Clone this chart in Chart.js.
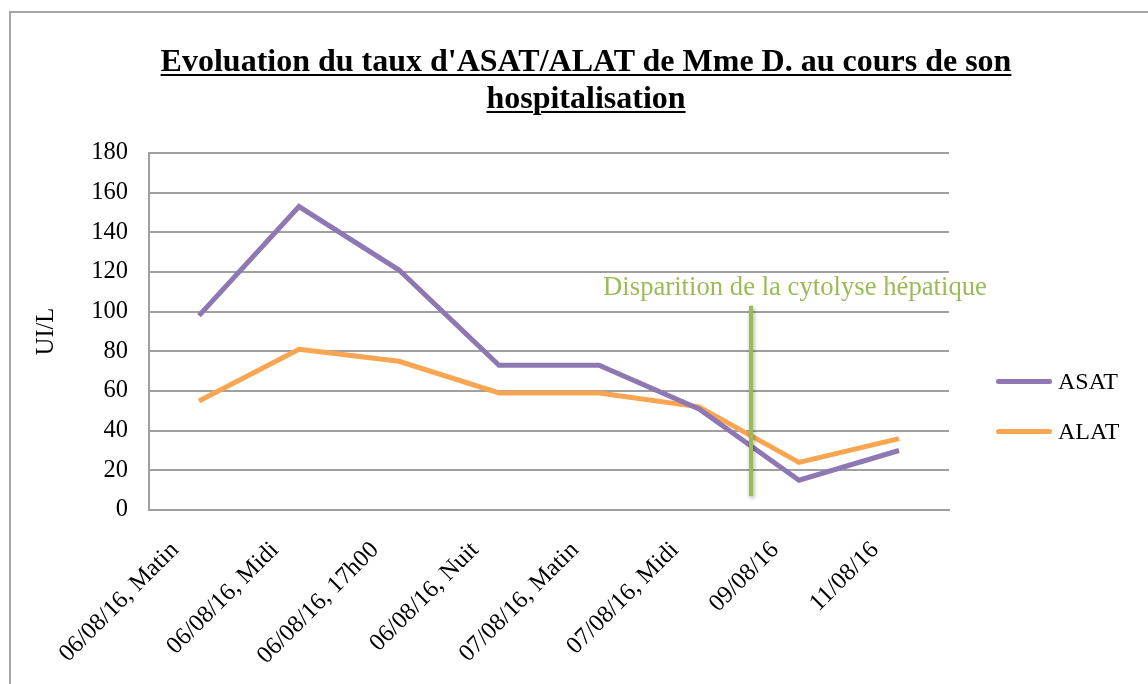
<!DOCTYPE html>
<html>
<head>
<meta charset="utf-8">
<script src="https://cdn.jsdelivr.net/npm/chart.js@4/dist/chart.umd.min.js"></script>
<style>
    body { margin: 0; background: #fff; overflow: hidden; }
    #wrap { position: relative; width: 1148px; height: 684px; }
    #frame { position: absolute; left: 9px; top: 11px; width: 1300px; height: 900px; border: 2px solid #a6a6a6; box-sizing: border-box; }
    #title { position: absolute; left: 86px; width: 1000px; top: 42px; text-align: center; font-family: "Liberation Serif", "Times New Roman", serif; font-weight: bold; font-size: 32px; line-height: 37px; text-decoration: underline; text-decoration-thickness: 2px; text-underline-offset: 3px; color: #000; }
    #legend { position: absolute; left: 996px; top: 356px; font-family: "Liberation Serif", "Times New Roman", serif; font-size: 24px; color: #000; }
    .item { height: 50px; display: flex; align-items: center; }
    .swatch { width: 56px; height: 5px; border-radius: 3px; margin-right: 6px; }
    canvas { position: absolute; left: 0; top: 0; }
</style>
</head>
<body>
<div id="wrap">
    <div id="frame"></div>
    <canvas id="hepChart" width="1148" height="684"></canvas>
    <div id="title">Evoluation du taux d'ASAT/ALAT de Mme D. au cours de son<br>hospitalisation</div>
    <div id="legend"></div>
</div>
<script>
// Data
const categories = ['06/08/16, Matin', '06/08/16, Midi', '06/08/16, 17h00', '06/08/16, Nuit', '07/08/16, Matin', '07/08/16, Midi', '09/08/16', '11/08/16'];
const asatValues = [98, 153, 121, 73, 73, 51, 15, 30];
const alatValues = [55, 81, 75, 59, 59, 52, 24, 36];
const seriesNames = ['ASAT', 'ALAT'];
const seriesColors = ['#8d78b4', '#f9a552'];

// Y axis ticks
const yMin = 0;
const yMax = 180;
const yStep = 20;

// Marker line between 07/08 midi and 09/08 (category index, value range)
const markerIndex = 5.52;
const markerFrom = 7;
const markerTo = 103;
const markerText = 'Disparition de la cytolyse hépatique';
const markerTextIndex = 5.96;
const markerTextValue = 112;

const serif = '"Liberation Serif", "Times New Roman", serif';

// Plugin to draw the vertical marker and its label
const markerPlugin = {
    id: 'marker',
    afterDatasetsDraw(chart) {
        const ctx = chart.ctx;
        const x = chart.scales.x.getPixelForValue(markerIndex);
        const y1 = chart.scales.y.getPixelForValue(markerFrom);
        const y2 = chart.scales.y.getPixelForValue(markerTo);
        ctx.save();
        ctx.shadowColor = 'rgba(0,0,0,0.35)';
        ctx.shadowBlur = 4;
        ctx.shadowOffsetX = 1;
        ctx.shadowOffsetY = 2;
        ctx.strokeStyle = '#9bbb59';
        ctx.lineWidth = 4;
        ctx.beginPath();
        ctx.moveTo(x, y1);
        ctx.lineTo(x, y2);
        ctx.stroke();
        ctx.restore();

        ctx.save();
        ctx.fillStyle = '#9bbb59';
        ctx.font = '26.7px ' + serif;
        ctx.textAlign = 'center';
        ctx.textBaseline = 'middle';
        ctx.fillText(markerText, chart.scales.x.getPixelForValue(markerTextIndex), chart.scales.y.getPixelForValue(markerTextValue));
        ctx.restore();
    }
};

var ctx = document.getElementById('hepChart').getContext('2d');
var hepChart = new Chart(ctx, {
    type: 'line',
    data: {
        labels: categories,
        datasets: [
            {
                label: seriesNames[0],
                data: asatValues,
                borderColor: seriesColors[0],
                backgroundColor: seriesColors[0],
                borderWidth: 5,
                pointRadius: 0,
                tension: 0,
                borderJoinStyle: 'miter'
            },
            {
                label: seriesNames[1],
                data: alatValues,
                borderColor: seriesColors[1],
                backgroundColor: seriesColors[1],
                borderWidth: 5,
                pointRadius: 0,
                tension: 0,
                borderJoinStyle: 'miter'
            }
        ]
    },
    options: {
        responsive: false,
        animation: false,
        layout: {
            padding: { top: 153, right: 199, bottom: 0, left: 0 }
        },
        plugins: {
            legend: { display: false },
            title: { display: false },
            tooltip: { enabled: false }
        },
        scales: {
            x: {
                offset: true,
                grid: { display: false, drawTicks: false },
                border: { color: '#a0a0a0', width: 2 },
                ticks: {
                    color: '#000',
                    font: { family: serif, size: 24.5 },
                    maxRotation: 45,
                    minRotation: 45,
                    padding: 26,
                    labelOffset: -24,
                    autoSkip: false
                },
                afterFit: function(scale) { scale.height = 174; }
            },
            y: {
                min: yMin,
                max: yMax,
                grid: { color: '#a0a0a0', lineWidth: 2, drawTicks: false },
                border: { color: '#a0a0a0', width: 2 },
                ticks: {
                    stepSize: yStep,
                    color: '#000',
                    font: { family: serif, size: 24.5 },
                    padding: 21
                },
                title: {
                    display: true,
                    text: 'UI/L',
                    color: '#000',
                    font: { family: serif, size: 24.5 },
                    padding: { top: 32, bottom: 0 }
                },
                afterFit: function(scale) { scale.width = 149; }
            }
        }
    },
    plugins: [markerPlugin]
});

// HTML legend on the right
var legendBox = document.getElementById('legend');
seriesNames.forEach(function(name, i) {
    var row = document.createElement('div');
    row.className = 'item';
    row.innerHTML = '<div class="swatch" style="background:' + seriesColors[i] + '"></div><span>' + name + '</span>';
    legendBox.appendChild(row);
});
</script>
</body>
</html>
